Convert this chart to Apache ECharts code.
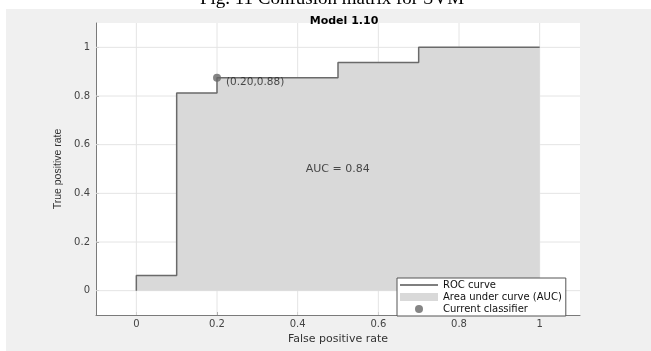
<!DOCTYPE html>
<html>
<head>
<meta charset="utf-8">
<script src="https://cdn.jsdelivr.net/npm/echarts@6/dist/echarts.min.js"></script>
<style>html,body{margin:0;padding:0;background:#f0f0f0;overflow:hidden;}#c{width:651px;height:351px;}</style>
</head>
<body>
<div id="c"></div>
<script>
// ROC curve vertices (false positive rate, true positive rate)
const fpr = [0, 0, 0.1, 0.1, 0.2, 0.2, 0.5, 0.5, 0.7, 0.7, 1];
const tpr = [0, 0.0625, 0.0625, 0.8125, 0.8125, 0.875, 0.875, 0.9375, 0.9375, 1, 1];
const currentClassifier = [0.2, 0.875];
const currentLabel = '(0.20,0.88)';
const aucValue = 0.84;
const aucPos = [0.42, 0.5];
const xTicks = [0, 0.2, 0.4, 0.6, 0.8, 1];
const yTicks = [0, 0.2, 0.4, 0.6, 0.8, 1];
const axisMin = -0.1;
const axisMax = 1.1;
const titleText = 'Model 1.10';
const captionText = 'Fig. 11 Confusion matrix for SVM';

const roc = fpr.map((x, i) => [x, tpr[i]]);
const FONT = '"DejaVu Sans", Verdana, sans-serif';

const gridStyle = {type: 'line', symbol: 'none', silent: true, z: 1, legendHoverLink: false,
  lineStyle: {color: '#e4e4e4', width: 1}, tooltip: {show: false}};
const gridSeries = xTicks.map(v => Object.assign({}, gridStyle, {name: '_gx' + v, data: [[v, axisMin], [v, axisMax]]}))
  .concat(yTicks.map(v => Object.assign({}, gridStyle, {name: '_gy' + v, data: [[axisMin, v], [axisMax, v]]})));

const chart = echarts.init(document.getElementById('c'), null, {renderer: 'canvas'});

chart.setOption({
  animation: false,
  backgroundColor: '#f0f0f0',
  textStyle: {fontFamily: FONT},
  graphic: [
    {type: 'rect', shape: {x: 0, y: 0, width: 651, height: 9}, style: {fill: '#ffffff'}, silent: true},
    {type: 'rect', shape: {x: 0, y: 0, width: 6, height: 351}, style: {fill: '#ffffff'}, silent: true},
    {type: 'text', x: 332, y: 9, style: {text: captionText, font: '19px "Liberation Serif", "Times New Roman", serif', fill: '#000', align: 'center', verticalAlign: 'bottom'}, silent: true}
  ],
  title: {
    text: titleText, left: 339, top: 11, textAlign: 'center',
    textStyle: {fontSize: 11, fontWeight: 'bold', color: '#000', fontFamily: FONT}
  },
  grid: {left: 96, right: 71, top: 23, bottom: 36, show: true, backgroundColor: '#ffffff', borderWidth: 0},
  xAxis: {
    type: 'value', min: axisMin, max: axisMax,
    name: 'False positive rate', nameLocation: 'middle', nameGap: 14,
    nameTextStyle: {fontSize: 11, color: '#333', fontFamily: FONT},
    axisLine: {show: true, onZero: false, lineStyle: {color: '#7a7a7a', width: 1}},
    axisTick: {show: true, inside: true, length: 3, customValues: xTicks, lineStyle: {color: '#7a7a7a'}},
    axisLabel: {customValues: xTicks, fontSize: 10, color: '#444', margin: 4, formatter: v => String(v)},
    splitLine: {show: false}
  },
  yAxis: {
    type: 'value', min: axisMin, max: axisMax,
    name: 'True positive rate', nameLocation: 'middle', nameGap: 30, nameRotate: 90,
    nameTextStyle: {fontSize: 10.5, color: '#333', fontFamily: '"Liberation Sans Narrow", "Arial Narrow", "Liberation Sans", sans-serif'},
    axisLine: {show: true, onZero: false, lineStyle: {color: '#7a7a7a', width: 1}},
    axisTick: {show: true, inside: true, length: 3, customValues: yTicks, lineStyle: {color: '#7a7a7a'}},
    axisLabel: {customValues: yTicks, fontSize: 10, color: '#444', margin: 6, formatter: v => String(v)},
    splitLine: {show: false}
  },
  legend: {
    orient: 'vertical', left: 397, top: 278,
    padding: [2, 4, 2, 3], itemGap: 2, itemWidth: 38, itemHeight: 8,
    symbolKeepAspect: true,
    backgroundColor: '#ffffff', borderColor: '#555', borderWidth: 1, borderRadius: 0,
    textStyle: {fontSize: 10, color: '#111', fontFamily: FONT},
    data: [
      {name: 'ROC curve', icon: 'path://M0,0 L38,0 L38,1.5 L0,1.5 Z', itemStyle: {color: '#555'}},
      {name: 'Area under curve (AUC)', icon: 'rect'},
      {name: 'Current classifier', icon: 'circle', itemStyle: {color: '#666'}}
    ]
  },
  series: gridSeries.concat([
    {
      name: 'Area under curve (AUC)', type: 'line', data: roc, symbol: 'none', z: 2,
      itemStyle: {color: '#d9d9d9'},
      lineStyle: {width: 0, opacity: 0},
      areaStyle: {color: '#d9d9d9', opacity: 1, origin: 0}
    },
    {
      name: 'ROC curve', type: 'line', data: roc, symbol: 'none', z: 3,
      itemStyle: {color: '#6a6a6a'},
      lineStyle: {color: '#6a6a6a', width: 1.5}
    },
    {
      name: 'Current classifier', type: 'scatter', data: [currentClassifier], z: 4,
      symbol: 'circle', symbolSize: 8, itemStyle: {color: '#666'},
      label: {show: true, position: 'right', distance: 3, offset: [2, 5], formatter: currentLabel,
        fontSize: 10.5, color: '#222', fontFamily: FONT}
    },
    {
      name: '_auc', type: 'scatter', data: [aucPos], symbolSize: 0, z: 4, silent: true,
      label: {show: true, position: 'inside', align: 'left', formatter: 'AUC = ' + aucValue.toFixed(2),
        fontSize: 11, color: '#222', fontFamily: FONT}
    }
  ])
});
</script>
</body>
</html>
